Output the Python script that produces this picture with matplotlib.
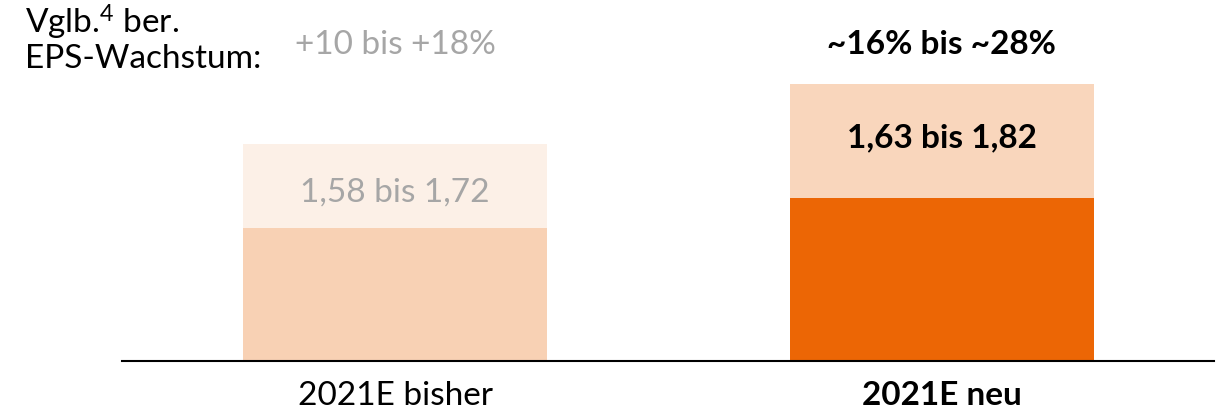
import matplotlib.pyplot as plt
from matplotlib.transforms import blended_transform_factory

plt.rcParams['font.family'] = ['Lato', 'DejaVu Sans']
plt.rcParams['mathtext.fontset'] = 'custom'
plt.rcParams['mathtext.rm'] = 'Lato'
plt.rcParams['mathtext.default'] = 'regular'

# EPS-Spanne 2021E (EUR)
categories = ['2021E bisher', '2021E neu']
eps_low = [1.58, 1.63]
eps_high = [1.72, 1.82]
range_labels = ['1,58 bis 1,72', '1,63 bis 1,82']
growth_labels = ['+10 bis +18%', '~16% bis ~28%']

y_min = 1.359
y_max = 1.959

low_colors = ['#F8D1B4', '#EC6605']
high_colors = ['#FCF0E7', '#F9D6BC']
text_colors = ['#A6A6A6', 'black']
weights = ['normal', 'bold']

W, H = 1223, 413
fig = plt.figure(figsize=(W / 100, H / 100), dpi=100)
ax = fig.add_axes([0.0998, 0.1259, 0.8929, 0.8741])

x = [0, 1]
width = 0.556
ax.bar(x, [v - y_min for v in eps_low], bottom=y_min, width=width, color=low_colors)
ax.bar(x, [h - l for h, l in zip(eps_high, eps_low)], bottom=eps_low, width=width, color=high_colors)

# x in data, y in figure pixels from the top
tr = blended_transform_factory(ax.transData, fig.transFigure)
def fy(py):
    return 1 - py / H

range_base = [202, 147]
for i in range(2):
    ax.text(x[i], fy(range_base[i]), range_labels[i], ha='center', va='baseline',
            fontsize=24, color=text_colors[i], fontweight=weights[i], transform=tr)
    ax.text(x[i], fy(405), categories[i], ha='center', va='baseline',
            fontsize=24, color='black', fontweight=weights[i], transform=tr)
    ax.text(x[i], fy(54), growth_labels[i], ha='center', va='baseline',
            fontsize=24, color=text_colors[i], fontweight=weights[i], transform=tr)

ax.set_xlim(-0.4995, 1.4986)
ax.set_ylim(y_min, y_max)
ax.axhline(y_min, color='black', lw=1.5, clip_on=False)
ax.axis('off')

fig.text(25 / W, fy(34), 'Vglb.$^{4}$ ber.', ha='left', va='baseline', fontsize=24)
fig.text(25 / W, fy(68), 'EPS-Wachstum:', ha='left', va='baseline', fontsize=24)

fig.savefig('out.png', dpi=100)
